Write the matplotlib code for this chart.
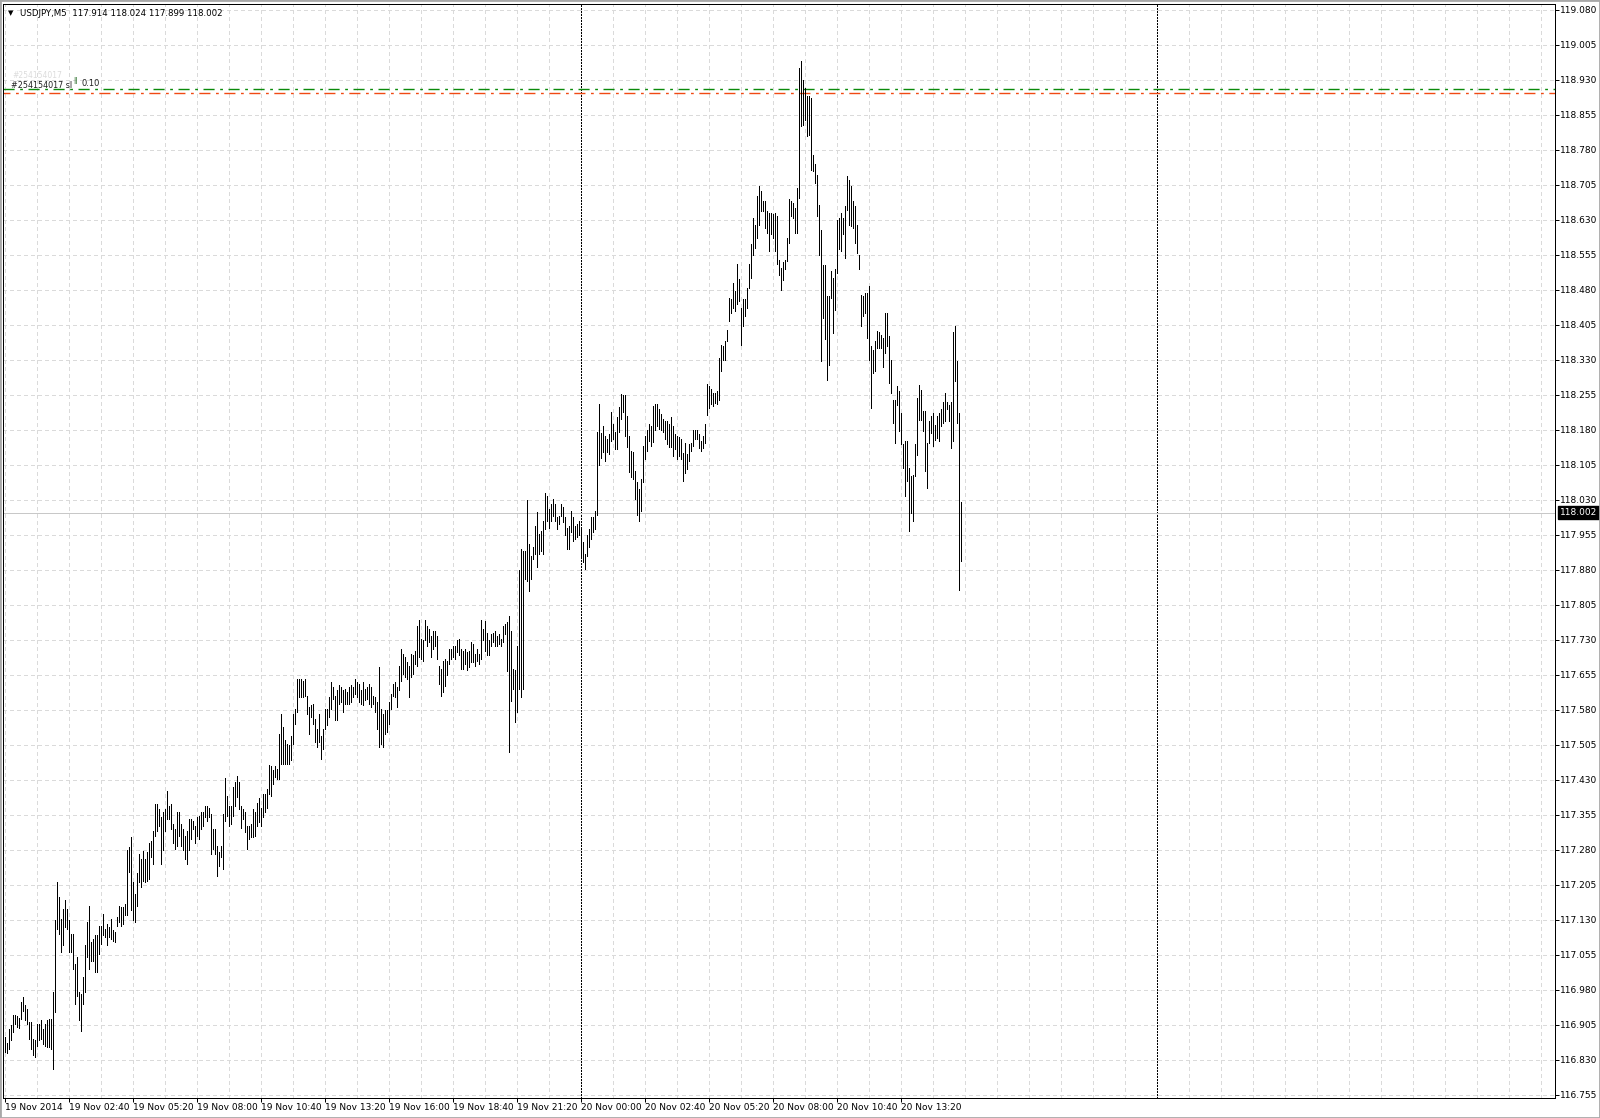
import matplotlib
matplotlib.use("Agg")
import matplotlib.pyplot as plt
from matplotlib.transforms import blended_transform_factory
import numpy as np

# USDJPY M5 bars, 19 Nov 2014 00:00 .. 20 Nov 2014 15:50 (high / low)
symbol = "USDJPY,M5"

high_19 = [
    116.878, 116.866, 116.896, 116.903, 116.925, 116.926, 116.923, 116.920, 116.953, 116.964,
    116.946, 116.939, 116.910, 116.910, 116.875, 116.871, 116.907, 116.907, 116.914, 116.896,
    116.907, 116.914, 116.917, 116.917, 116.975, 117.128, 117.210, 117.178, 117.132, 117.153,
    117.171, 117.153, 117.128, 117.100, 117.100, 117.035, 117.050, 116.975, 116.971, 117.007,
    117.075, 117.124, 117.160, 117.082, 117.089, 117.096, 117.096, 117.117, 117.117, 117.142,
    117.110, 117.121, 117.114, 117.132, 117.107, 117.103, 117.135, 117.160, 117.157, 117.157,
    117.164, 117.278, 117.285, 117.306, 117.210, 117.185, 117.230, 117.270, 117.260, 117.277,
    117.260, 117.274, 117.295, 117.299, 117.320, 117.377, 117.377, 117.367, 117.349, 117.360,
    117.367, 117.406, 117.374, 117.377, 117.335, 117.324, 117.360, 117.360, 117.335, 117.324,
    117.310, 117.320, 117.345, 117.345, 117.342, 117.331, 117.349, 117.352, 117.360, 117.360,
    117.374, 117.374, 117.370, 117.356, 117.324, 117.324, 117.288, 117.274, 117.288, 117.356,
    117.434, 117.395, 117.374, 117.374, 117.413, 117.424, 117.438, 117.424, 117.374, 117.367,
    117.360, 117.331, 117.331, 117.335, 117.367, 117.360, 117.380, 117.390, 117.370, 117.400,
    117.400, 117.410, 117.462, 117.460, 117.450, 117.460, 117.453, 117.528, 117.571, 117.542,
    117.514, 117.507, 117.503, 117.524, 117.571, 117.582, 117.646, 117.646, 117.646, 117.642,
    117.646, 117.610, 117.585, 117.589, 117.592, 117.560, 117.539, 117.571, 117.524, 117.539,
    117.582, 117.582, 117.607, 117.639, 117.628, 117.610, 117.621, 117.632, 117.628, 117.621,
    117.624, 117.617, 117.628, 117.632, 117.628, 117.646, 117.639, 117.635, 117.621, 117.639,
    117.624, 117.628, 117.635, 117.628, 117.610, 117.607, 117.596, 117.671, 117.581, 117.571,
    117.578, 117.578, 117.596, 117.613, 117.635, 117.638, 117.628, 117.674, 117.710, 117.699,
    117.692, 117.681, 117.674, 117.699, 117.696, 117.706, 117.760, 117.771, 117.731, 117.728,
    117.771, 117.760, 117.753, 117.738, 117.749, 117.749, 117.738, 117.674, 117.667, 117.685,
    117.689, 117.685, 117.710, 117.710, 117.717, 117.717, 117.728, 117.731, 117.710, 117.706,
    117.710, 117.703, 117.706, 117.724, 117.721, 117.699, 117.710, 117.699, 117.771, 117.753,
    117.770, 117.745, 117.728, 117.742, 117.745, 117.749, 117.738, 117.742, 117.731, 117.760,
    117.763, 117.767, 117.781, 117.749, 117.667, 117.664, 117.717, 117.878, 117.924, 117.920,
    117.920, 118.028, 117.935, 117.910, 117.928, 117.974, 118.003, 117.956, 117.963, 117.985,
    118.045, 118.038, 118.010, 118.020, 118.031, 118.020, 117.992, 117.995, 118.020, 118.013,
    117.992, 117.970, 117.974, 118.006, 117.992, 117.974, 117.978, 117.985,
]
low_19 = [
    116.846, 116.845, 116.852, 116.871, 116.889, 116.907, 116.900, 116.897, 116.917, 116.935,
    116.914, 116.907, 116.875, 116.853, 116.839, 116.835, 116.860, 116.871, 116.875, 116.864,
    116.860, 116.857, 116.857, 116.853, 116.810, 116.932, 117.110, 117.100, 117.060, 117.075,
    117.114, 117.110, 117.060, 117.060, 117.025, 116.950, 116.967, 116.914, 116.892, 116.950,
    116.975, 117.050, 117.025, 117.042, 117.042, 117.017, 117.017, 117.057, 117.078, 117.096,
    117.092, 117.075, 117.092, 117.089, 117.085, 117.082, 117.117, 117.124, 117.117, 117.121,
    117.139, 117.140, 117.231, 117.150, 117.130, 117.125, 117.160, 117.210, 117.200, 117.213,
    117.210, 117.213, 117.217, 117.263, 117.250, 117.310, 117.320, 117.331, 117.249, 117.278,
    117.320, 117.345, 117.345, 117.324, 117.295, 117.281, 117.288, 117.310, 117.288, 117.278,
    117.260, 117.249, 117.278, 117.302, 117.324, 117.295, 117.310, 117.302, 117.324, 117.331,
    117.349, 117.342, 117.349, 117.270, 117.281, 117.270, 117.224, 117.245, 117.263, 117.238,
    117.342, 117.352, 117.331, 117.335, 117.352, 117.374, 117.392, 117.367, 117.327, 117.345,
    117.317, 117.281, 117.302, 117.306, 117.306, 117.310, 117.330, 117.340, 117.330, 117.350,
    117.360, 117.370, 117.400, 117.395, 117.421, 117.435, 117.432, 117.432, 117.464, 117.464,
    117.464, 117.464, 117.464, 117.471, 117.507, 117.550, 117.575, 117.607, 117.607, 117.607,
    117.610, 117.571, 117.528, 117.564, 117.550, 117.510, 117.500, 117.510, 117.475, 117.496,
    117.539, 117.546, 117.564, 117.582, 117.603, 117.557, 117.557, 117.592, 117.596, 117.575,
    117.592, 117.592, 117.592, 117.596, 117.607, 117.614, 117.607, 117.596, 117.592, 117.589,
    117.600, 117.603, 117.592, 117.585, 117.592, 117.575, 117.539, 117.500, 117.506, 117.499,
    117.528, 117.531, 117.549, 117.581, 117.610, 117.606, 117.585, 117.621, 117.642, 117.656,
    117.649, 117.646, 117.606, 117.649, 117.656, 117.678, 117.674, 117.692, 117.688, 117.685,
    117.728, 117.717, 117.724, 117.692, 117.710, 117.717, 117.688, 117.635, 117.610, 117.617,
    117.631, 117.653, 117.678, 117.688, 117.692, 117.688, 117.703, 117.696, 117.667, 117.667,
    117.678, 117.664, 117.671, 117.681, 117.681, 117.674, 117.685, 117.678, 117.688, 117.728,
    117.706, 117.696, 117.696, 117.717, 117.724, 117.717, 117.717, 117.721, 117.717, 117.724,
    117.742, 117.663, 117.489, 117.599, 117.624, 117.553, 117.574, 117.624, 117.606, 117.624,
    117.860, 117.856, 117.835, 117.860, 117.903, 117.913, 117.885, 117.913, 117.920, 117.913,
    117.967, 117.985, 117.970, 117.985, 117.995, 117.985, 117.967, 117.978, 117.995, 117.981,
    117.953, 117.924, 117.924, 117.960, 117.942, 117.945, 117.949, 117.953,
]

high_20 = [
    117.970, 117.938, 117.913, 117.953, 117.967, 117.992, 117.992, 118.006, 118.174, 118.235,
    118.172, 118.188, 118.167, 118.160, 118.170, 118.217, 118.192, 118.174, 118.206, 118.228,
    118.256, 118.253, 118.253, 118.210, 118.167, 118.135, 118.131, 118.092, 118.067, 118.053,
    118.074, 118.145, 118.167, 118.178, 118.192, 118.188, 118.231, 118.235, 118.235, 118.224,
    118.213, 118.203, 118.199, 118.199, 118.192, 118.206, 118.188, 118.170, 118.167, 118.163,
    118.160, 118.130, 118.152, 118.127, 118.148, 118.152, 118.180, 118.180, 118.180, 118.170,
    118.155, 118.166, 118.191, 118.277, 118.273, 118.266, 118.259, 118.259, 118.262, 118.334,
    118.362, 118.359, 118.370, 118.394, 118.462, 118.459, 118.494, 118.477, 118.534, 118.502,
    118.441, 118.459, 118.459, 118.484, 118.534, 118.577, 118.634, 118.619, 118.680, 118.702,
    118.691, 118.669, 118.669, 118.648, 118.644, 118.644, 118.641, 118.644, 118.637, 118.544,
    118.527, 118.540, 118.544, 118.591, 118.673, 118.669, 118.666, 118.655, 118.698, 118.955,
    118.969, 118.930, 118.912, 118.894, 118.894, 118.890, 118.769, 118.748, 118.726, 118.662,
    118.608, 118.533, 118.533, 118.466, 118.466, 118.519, 118.505, 118.523, 118.630, 118.633,
    118.644, 118.633, 118.658, 118.723, 118.715, 118.701, 118.669, 118.658, 118.619, 118.555,
    118.469, 118.466, 118.473, 118.473, 118.487, 118.358, 118.351, 118.369, 118.391, 118.390,
    118.383, 118.376, 118.430, 118.430, 118.380, 118.330, 118.244, 118.244, 118.273, 118.262,
    118.215, 118.148, 118.155, 118.155, 118.098, 118.080, 118.083, 118.148, 118.248, 118.276,
    118.265, 118.219, 118.219, 118.151, 118.198, 118.208, 118.215, 118.190, 118.208, 118.215,
    118.223, 118.240, 118.258, 118.240, 118.233, 118.240, 118.390, 118.401, 118.326, 118.215,
    118.024,
]
low_20 = [
    117.906, 117.896, 117.881, 117.910, 117.928, 117.946, 117.960, 117.967, 117.996, 118.103,
    118.120, 118.131, 118.113, 118.131, 118.128, 118.156, 118.160, 118.138, 118.138, 118.174,
    118.203, 118.217, 118.167, 118.142, 118.088, 118.078, 118.074, 118.031, 117.996, 117.985,
    118.006, 118.067, 118.117, 118.135, 118.156, 118.145, 118.153, 118.178, 118.188, 118.181,
    118.178, 118.174, 118.160, 118.149, 118.142, 118.142, 118.124, 118.138, 118.117, 118.124,
    118.117, 118.070, 118.087, 118.095, 118.112, 118.134, 118.145, 118.159, 118.159, 118.141,
    118.134, 118.141, 118.152, 118.212, 118.227, 118.234, 118.230, 118.237, 118.234, 118.244,
    118.305, 118.330, 118.330, 118.370, 118.412, 118.430, 118.441, 118.434, 118.448, 118.455,
    118.362, 118.402, 118.423, 118.441, 118.484, 118.505, 118.555, 118.569, 118.591, 118.619,
    118.648, 118.648, 118.612, 118.602, 118.562, 118.598, 118.591, 118.562, 118.534, 118.512,
    118.480, 118.501, 118.523, 118.541, 118.580, 118.637, 118.633, 118.601, 118.601, 118.676,
    118.830, 118.833, 118.844, 118.808, 118.812, 118.737, 118.733, 118.708, 118.637, 118.555,
    118.326, 118.419, 118.373, 118.287, 118.319, 118.462, 118.387, 118.437, 118.516, 118.566,
    118.562, 118.598, 118.548, 118.651, 118.619, 118.616, 118.612, 118.580, 118.558, 118.523,
    118.401, 118.423, 118.430, 118.376, 118.330, 118.226, 118.301, 118.305, 118.355, 118.355,
    118.355, 118.315, 118.344, 118.358, 118.280, 118.258, 118.194, 118.151, 118.233, 118.176,
    118.148, 118.098, 118.037, 118.069, 117.962, 118.001, 117.983, 118.080, 118.126, 118.201,
    118.201, 118.176, 118.091, 118.055, 118.151, 118.173, 118.144, 118.158, 118.162, 118.155,
    118.187, 118.194, 118.198, 118.223, 118.198, 118.141, 118.155, 118.283, 118.194, 117.837,
    117.899,
]

last_open = 117.914
last_close = 118.002
bid = 118.002
order_ticket = "#254154017"
order_lots = "0.10"
order_price = 118.910
sl_price = 118.902

time_labels = ["19 Nov 2014", "19 Nov 02:40", "19 Nov 05:20", "19 Nov 08:00",
               "19 Nov 10:40", "19 Nov 13:20", "19 Nov 16:00", "19 Nov 18:40",
               "19 Nov 21:20", "20 Nov 00:00", "20 Nov 02:40", "20 Nov 05:20",
               "20 Nov 08:00", "20 Nov 10:40", "20 Nov 13:20"]
price_levels = [round(116.755 + 0.075 * k, 3) for k in range(32)]

highs = np.array(high_19 + high_20)
lows = np.array(low_19 + low_20)
bars = np.arange(len(highs))
day_starts = [len(high_19), 2 * len(high_19)]

W, H = 1600, 1118
PX = 0.72  # one pixel in points at 100 dpi
fig = plt.figure(figsize=(W / 100, H / 100), dpi=100)
fig.patch.set_facecolor("white")
ax = fig.add_axes([3 / W, (H - 1098) / H, 1552 / W, 1094 / H])
x_lo, x_hi = -1, 775
y_lo, y_hi = 116.7475, 119.0918
ax.set_xlim(x_lo, x_hi)
ax.set_ylim(y_lo, y_hi)

# grid
grid_kw = dict(color="#dadada", lw=PX, linestyles=(0, (4, 3)), zorder=0, antialiased=False)
ax.hlines(price_levels, x_lo, x_hi, **grid_kw)
ax.vlines(np.arange(0, x_hi, 16), y_lo, y_hi, **grid_kw)

# day separators
ax.vlines(day_starts, y_lo, y_hi, colors="black", lw=PX, linestyles=(0, (2, 1.5)),
          zorder=1, antialiased=False)

# bid line
ax.axhline(bid, color="#c8c8c8", lw=PX, zorder=1)

# order / stop loss lines
ax.axhline(order_price, color="#0a8a0a", lw=1.0, linestyle=(0, (8, 4, 2, 4)), zorder=2)
ax.axhline(sl_price, color="#f04a14", lw=1.0, linestyle=(3, (8, 4, 2, 4)), zorder=2)

# bars
ax.vlines(bars, lows, highs, colors="black", lw=PX, zorder=3, antialiased=False)

# axes
for s in ax.spines.values():
    s.set_color("black")
    s.set_linewidth(PX)
ax.yaxis.tick_right()
ax.set_yticks(price_levels)
ax.set_yticklabels([f"{p:.3f}" for p in price_levels])
ax.tick_params(axis="y", direction="out", length=2.9, width=PX, pad=1.0,
               labelsize=6.5, colors="black")
ax.set_xticks(bars[::32][:len(time_labels)])
ax.set_xticklabels(time_labels)
ax.tick_params(axis="x", direction="out", length=2.9, width=PX, pad=1.0,
               labelsize=6.5, colors="black")
for lab in ax.get_xticklabels():
    lab.set_ha("left")

# current price box on the scale
trans = blended_transform_factory(ax.transAxes, ax.transData)
ax.text((1560 - 3) / 1552, bid, f"{bid:.3f}", transform=trans, color="white",
        fontsize=6.5, ha="left", va="center", clip_on=False, zorder=5,
        bbox=dict(boxstyle="square,pad=0.2", facecolor="black", edgecolor="black"))


def fpx(x, y):
    return x / W, 1 - y / H


# header
fig.text(*fpx(8, 13), "\u25bc", fontsize=5, va="center", ha="left")
fig.text(*fpx(20, 13),
         f"{symbol}  {last_open:.3f} {highs[-1]:.3f} {lows[-1]:.3f} {last_close:.3f}",
         fontsize=6.2, va="center", ha="left")

# order labels
fig.text(*fpx(12, 75), order_ticket, fontsize=5.5, color="#dcdcdc", va="center")
fig.text(*fpx(11, 86), f"{order_ticket} sl", fontsize=5.8, color="#202020", va="center")
fig.text(*fpx(73, 82), "ll", fontsize=5.5, color="#3a7a3a", va="center")
fig.text(*fpx(82, 83), order_lots, fontsize=6, color="#202020", va="center")

# window frame
fig.add_artist(plt.Rectangle((0, 0), 1, 1, transform=fig.transFigure, fill=False,
                             edgecolor="#a8a8a8", lw=2))

fig.savefig("out.png", dpi=100)
